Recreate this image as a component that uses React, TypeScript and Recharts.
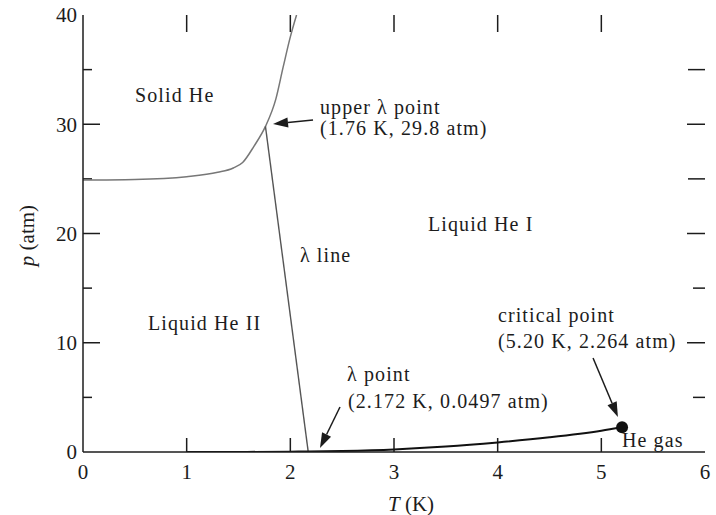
import React from "react";
import {
  LineChart,
  Line,
  XAxis,
  YAxis,
  ReferenceLine,
  ReferenceDot,
} from "recharts";

// Phase boundaries of helium-4 (T in K, p in atm)
const meltingT = [0, 0.5, 1.0, 1.3, 1.45, 1.54, 1.65, 1.76, 1.86, 1.93, 2.0, 2.06];
const meltingP = [24.9, 24.95, 25.2, 25.6, 26.0, 26.5, 28.0, 29.8, 32.3, 35.2, 38.0, 40];

const lambdaT = [1.76, 2.172];
const lambdaP = [29.8, 0.0497];

const vaporT = [1.0, 1.5, 2.0, 2.172, 2.5, 3.0, 3.5, 4.0, 4.5, 5.0, 5.2];
const vaporP = [0.0002, 0.0047, 0.031, 0.0497, 0.102, 0.24, 0.5, 0.88, 1.35, 1.95, 2.264];

const criticalPoint = { t: 5.2, p: 2.264 };

const xTicks = [0, 1, 2, 3, 4, 5, 6];
const yTicks = [0, 10, 20, 30, 40];
const yMinor = [5, 15, 25, 35];

// region names and point captions: left edge / baseline in data units
const notes = [
  { t: 0.502, p: 32.0, text: "Solid He" },
  { t: 2.286, p: 30.95, text: "upper λ point" },
  { t: 2.286, p: 29.0, text: "(1.76 K, 29.8 atm)" },
  { t: 3.328, p: 20.2, text: "Liquid He I" },
  { t: 2.093, p: 17.4, text: "λ line" },
  { t: 0.627, p: 11.2, text: "Liquid He II" },
  { t: 2.547, p: 6.5, text: "λ point" },
  { t: 2.556, p: 4.0, text: "(2.172 K, 0.0497 atm)" },
  { t: 4.003, p: 11.9, text: "critical point" },
  { t: 4.003, p: 9.55, text: "(5.20 K, 2.264 atm)" },
  { t: 5.199, p: 0.45, text: "He gas" },
];

// arrows: tail -> head
const arrows = [
  { from: { x: 2.219, y: 30.39 }, to: { x: 1.833, y: 30.02 } },
  { from: { x: 2.479, y: 4.12 }, to: { x: 2.286, y: 0.37 } },
  { from: { x: 4.92, y: 8.6 }, to: { x: 5.16, y: 3.2 } },
];

const toRows = (ts: number[], ps: number[]) => ts.map((t, i) => ({ t, p: ps[i] }));
const melting = toRows(meltingT, meltingP);
const lambdaLine = toRows(lambdaT, lambdaP);
const vapor = toRows(vaporT, vaporP);

const FONT = "'Liberation Serif', 'Times New Roman', serif";
const INK = "#1c1c1c";

const Arrow = (props: any) => {
  const { x1, y1, x2, y2 } = props;
  const dx = x2 - x1;
  const dy = y2 - y1;
  const len = Math.hypot(dx, dy) || 1;
  const ux = dx / len;
  const uy = dy / len;
  const hl = 15;
  const hw = 5;
  const bx = x2 - ux * hl;
  const by = y2 - uy * hl;
  const pts = `${x2},${y2} ${bx - uy * hw},${by + ux * hw} ${bx + uy * hw},${by - ux * hw}`;
  return (
    <g>
      <line x1={x1} y1={y1} x2={bx} y2={by} stroke={INK} strokeWidth={1.5} />
      <polygon points={pts} fill={INK} />
    </g>
  );
};

const noteShape = (text: string) => (props: any) => (
  <text
    x={props.cx}
    y={props.cy}
    fontFamily={FONT}
    fontSize={20}
    letterSpacing={1.1}
    fill={INK}
  >
    {text}
  </text>
);

const tick = (x1: number, y1: number, x2: number, y2: number, key: string) => (
  <ReferenceLine
    key={key}
    segment={[{ x: x1, y: y1 }, { x: x2, y: y2 }]}
    stroke={INK}
    strokeWidth={1.5}
  />
);

// tick lengths converted to data units (103.67 px per K, 10.925 px per atm)
const PX_T = 1 / 103.67;
const PX_P = 1 / 10.925;

export default function App() {
  const tickMarks: React.ReactNode[] = [];
  xTicks.slice(1, -1).forEach((t) => {
    tickMarks.push(tick(t, 0, t, 14 * PX_P, `b${t}`));
    tickMarks.push(tick(t, 40, t, 40 - 17 * PX_P, `t${t}`));
  });
  yTicks.slice(1, -1).forEach((p) => {
    tickMarks.push(tick(0, p, 17 * PX_T, p, `l${p}`));
    tickMarks.push(tick(6, p, 6 - 18 * PX_T, p, `r${p}`));
  });
  yMinor.forEach((p) => {
    tickMarks.push(tick(0, p, 9 * PX_T, p, `lm${p}`));
    const len = p === 5 || p === 15 ? 12 : 17;
    tickMarks.push(tick(6, p, 6 - len * PX_T, p, `rm${p}`));
  });

  return (
    <div style={{ position: "absolute", left: 0, top: 0, width: 716, height: 515, background: "#fff" }}>
      <LineChart width={716} height={515} margin={{ top: 15, right: 11, bottom: 0, left: 0 }}>
        <XAxis
          type="number"
          dataKey="t"
          domain={[0, 6]}
          ticks={xTicks}
          allowDataOverflow
          height={63}
          tickSize={0}
          tickMargin={12}
          tickLine={false}
          axisLine={{ stroke: INK, strokeWidth: 1.5 }}
          tick={{ fill: INK, fontFamily: FONT, fontSize: 21 }}
          label={{
            content: (p: any) => {
              const vb = p.viewBox || { x: 83, width: 622 };
              return (
                <text
                  x={vb.x + vb.width / 2 + 17}
                  y={511}
                  textAnchor="middle"
                  fontFamily={FONT}
                  fontSize={21}
                  fill={INK}
                >
                  <tspan fontStyle="italic">T</tspan> (K)
                </text>
              );
            },
          }}
        />
        <XAxis
          xAxisId="top"
          orientation="top"
          type="number"
          domain={[0, 6]}
          height={0}
          tick={false}
          tickLine={false}
          axisLine={{ stroke: INK, strokeWidth: 1.5 }}
        />
        <YAxis
          type="number"
          domain={[0, 40]}
          ticks={yTicks}
          allowDataOverflow
          width={83}
          tickSize={0}
          tickMargin={6}
          tickLine={false}
          axisLine={{ stroke: INK, strokeWidth: 1.5 }}
          tick={{ fill: INK, fontFamily: FONT, fontSize: 21 }}
          label={{
            content: (p: any) => {
              const vb = p.viewBox || { y: 15, height: 437 };
              const cy = vb.y + vb.height / 2 + 2;
              return (
                <text
                  x={34}
                  y={cy}
                  transform={`rotate(-90, 34, ${cy})`}
                  textAnchor="middle"
                  fontFamily={FONT}
                  fontSize={21}
                  fill={INK}
                >
                  <tspan fontStyle="italic">p</tspan> (atm)
                </text>
              );
            },
          }}
        />
        <YAxis
          yAxisId="right"
          orientation="right"
          type="number"
          domain={[0, 40]}
          width={0}
          tick={false}
          tickLine={false}
          axisLine={{ stroke: INK, strokeWidth: 1.5 }}
        />

        {tickMarks}

        <Line
          data={melting}
          dataKey="p"
          type="monotone"
          stroke="#777"
          strokeWidth={1.5}
          dot={false}
          isAnimationActive={false}
        />
        <Line
          data={lambdaLine}
          dataKey="p"
          type="linear"
          stroke="#555"
          strokeWidth={1.4}
          dot={false}
          isAnimationActive={false}
        />
        <Line
          data={vapor}
          dataKey="p"
          type="monotone"
          stroke="#111"
          strokeWidth={2}
          dot={false}
          isAnimationActive={false}
        />

        <ReferenceDot
          x={criticalPoint.t}
          y={criticalPoint.p}
          r={6}
          fill="#111"
          stroke="none"
        />

        {arrows.map((a, i) => (
          <ReferenceLine key={`a${i}`} segment={[a.from, a.to]} shape={Arrow} />
        ))}

        {notes.map((n) => (
          <ReferenceDot key={n.text} x={n.t} y={n.p} r={0} shape={noteShape(n.text)} />
        ))}
      </LineChart>
    </div>
  );
}
